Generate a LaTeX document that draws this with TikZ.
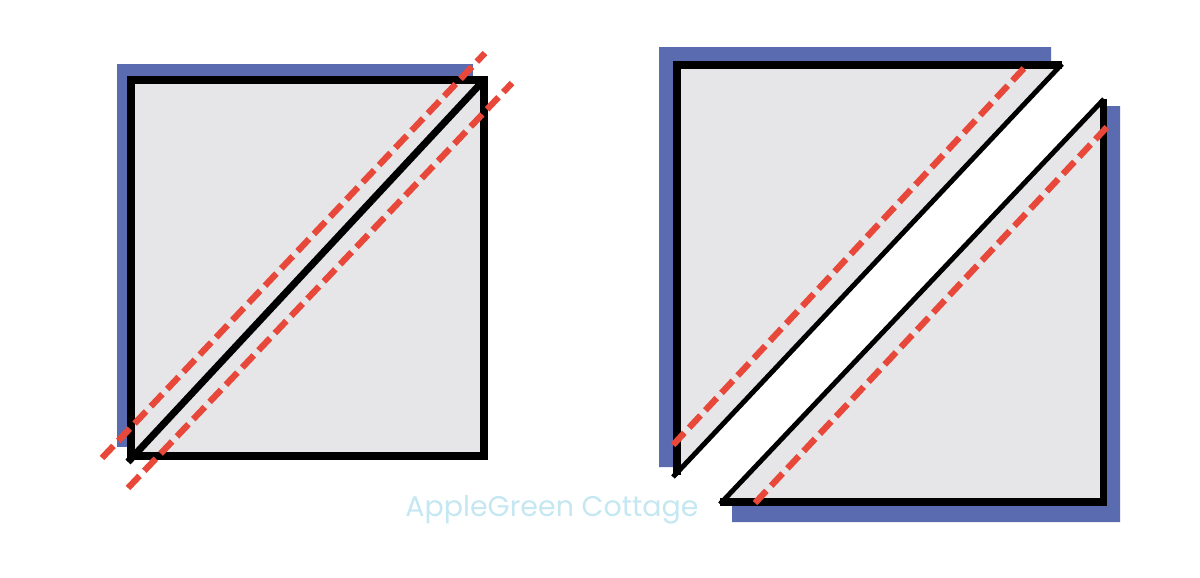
\documentclass[tikz,border=0pt]{standalone}
\usepackage{fontspec}
\newfontfamily\logofont{Poppins}
\definecolor{shadowblue}{HTML}{5A6BB0}
\definecolor{patchgrey}{HTML}{E6E6E8}
\definecolor{seamred}{HTML}{E8483A}
\definecolor{logocyan}{HTML}{C4E7F1}

\begin{document}
\begin{tikzpicture}[x=0.02cm, y=-0.02cm, line cap=butt, line join=miter,
	shadow/.style={fill=shadowblue, draw=none},
	patch/.style={fill=patchgrey, draw=none},
	edge/.style={draw=black, line width=4pt},
	cut/.style={draw=black, line width=2.8pt},
	seam/.style={draw=seamred, line width=3.6pt, dash pattern=on 9.5pt off 4pt}]
\useasboundingbox (0,0) rectangle (1200,578);
%========================
% Left: whole square
%========================
\fill[shadow] (117,64) rectangle (473,447);
\fill[patch] (131,80) rectangle (484,456);
\draw[edge] (131,80) rectangle (484,456);
% diagonal
\draw[edge] (128,462) -- (484,80);
% sewing lines
\draw[seam] (102,458) -- (485,53);
\draw[seam] (128,488) -- (512,83);

%========================
% Right: two triangles
%========================
% upper triangle
\fill[shadow] (659,467) -- (659,47) -- (1051,47) -- (1051,65) -- (677,65) -- (677,467) -- cycle;
\fill[patch] (677,65) -- (1060,65) -- (674,475) -- cycle;
\draw[cut] (1062,64) -- (673,477);
\draw[edge] (1062,65) -- (677,65) -- (677,475);
\draw[seam] (673,445) -- (1027,65);
% lower triangle
\fill[shadow] (732,522) -- (1120,522) -- (1120,106) -- (1103,106) -- (1103,502) -- (732,502) -- cycle;
\fill[patch] (1103,100) -- (1103,502) -- (722,502) -- cycle;
\draw[cut] (1104,99) -- (720,504);
\draw[edge] (1103,99) -- (1103,502) -- (720,502);
\draw[seam] (755,503) -- (1107,127);

% watermark
\node[text=logocyan, font=\logofont\fontsize{16.2}{18}\selectfont] (logo) at (552,510) {AppleGreen Cottage};
\end{tikzpicture}
\end{document}
